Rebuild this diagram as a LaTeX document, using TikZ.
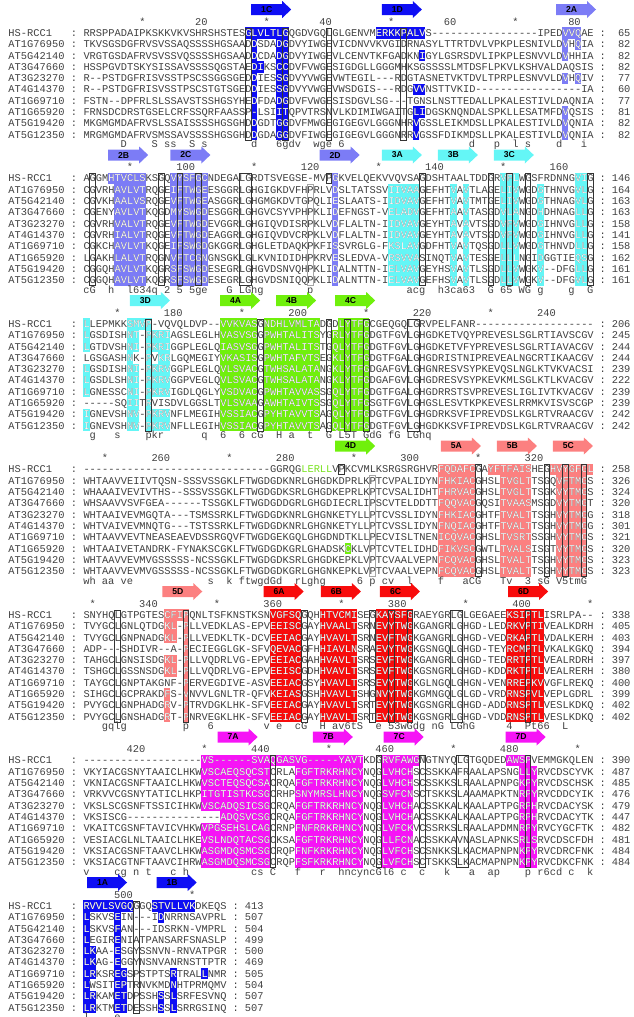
\documentclass[tikz,border=0pt]{standalone}
\usepackage{fontspec}
\setmonofont{Liberation Mono}
\newfontfamily\lblfont{Liberation Sans}

\definecolor{bA}{RGB}{14,14,244}
\definecolor{bB}{RGB}{124,124,246}
\definecolor{cC}{RGB}{100,246,246}
\definecolor{gG}{RGB}{112,240,12}
\definecolor{sS}{RGB}{252,128,128}
\definecolor{rR}{RGB}{248,12,12}
\definecolor{mM}{RGB}{246,20,246}
\definecolor{grT}{RGB}{120,226,30}
\definecolor{inkC}{RGB}{64,64,64}

\tikzstyle{seqtext}=[anchor=base west, inner sep=0pt, text=inkC, font=\ttfamily\fontsize{10.37}{12}\selectfont]
\tikzstyle{midtext}=[seqtext, anchor=base]
\tikzstyle{numtext}=[seqtext, anchor=base east]
\tikzstyle{strandlabel}=[inner sep=0pt, text=black, font=\lblfont\bfseries\fontsize{8.6}{9}\selectfont]
\tikzstyle{colbox}=[draw=black!80, line width=0.7pt]
\tikzstyle{greybox}=[draw=black!35, line width=0.7pt]

\def\xo{83.3}
\def\cw{6.22}
\def\rs{11.3}

\newcommand\setblock[1]{\pgfmathsetmacro\Y{33+(#1-1)*145.5}}
\newcommand\shadecells[1]{\foreach \hue/\ca/\cb/\ra/\rb in #1 {\fill[\hue] ({\xo+(\ca-1)*\cw},{\Y+(\ra-0.5)*\rs}) rectangle ({\xo+\cb*\cw},{\Y+(\rb+0.5)*\rs});}}
\newcommand\seqrows[3]{\foreach \nm/\s/\e [count=\r from 0] in #3 {
  \node[seqtext] (n#1-\r) at (8.3,{\Y+\r*\rs+3.4}) {\nm};
  \node[midtext] (c#1-\r) at ({\xo-1.5*\cw},{\Y+\r*\rs+3.4}) {:};
  \node[seqtext] (s#1-\r) at (\xo,{\Y+\r*\rs+3.4}) {\s};
  \node[midtext] (d#1-\r) at ({\xo+(#2+1.5)*\cw},{\Y+\r*\rs+3.4}) {:};
  \node[numtext] (e#1-\r) at ({\xo+(#2+6)*\cw},{\Y+\r*\rs+3.4}) {\e};}}
\newcommand\whiterows[3]{\begin{scope}
  \clip \foreach \hue/\ca/\cb/\ra/\rb in #2 {({\xo+(\ca-1)*\cw},{\Y+(\ra-0.5)*\rs}) rectangle ({\xo+\cb*\cw},{\Y+(\rb+0.5)*\rs})};
  \foreach \nm/\s/\e [count=\r from 0] in #3 {\node[seqtext, text=white] (w#1-\r) at (\xo,{\Y+\r*\rs+3.4}) {\s};}
  \end{scope}}
\newcommand\boxcols[2]{\foreach \ca/\cb/\ra/\rb in {#2} {\draw[#1] ({\xo+(\ca-1)*\cw+0.3},{\Y+(\ra-0.5)*\rs+0.5}) rectangle ({\xo+\cb*\cw-0.3},{\Y+(\rb+0.5)*\rs-0.5});}}
\newcommand\rulermarks[3]{\foreach \cc in {#2} {\node[midtext] (k#1-\cc) at ({\xo+(\cc-0.5)*\cw},{\Y-8}) {*};}
  \foreach \cc/\ch in {#3} {\node[numtext] (m#1-\cc) at ({\xo+\cc*\cw},{\Y-8}) {\ch};}}
\newcommand\consline[2]{\foreach \cc/\ch in {#2} {\node[midtext] (q#1-\cc) at ({\xo+(\cc-0.5)*\cw},{\Y+9*\rs+13.2}) {\ch};}}
\newcommand\strand[3]{\fill[#3] ({\xo+(#1-1)*\cw},{\Y-29}) -- ++(31,0) -- ++(0,-3) -- ++(9,8.5) -- ++(-9,8.5) -- ++(0,-3) -- ++(-31,0) -- cycle;
  \node[strandlabel] (st#2) at ({\xo+(#1-1)*\cw+15.5},{\Y-23.5}) {#2};}

\def\rowsA{HS-RCC1/RRSPPADAIPKSKKVKVSHRSHSTESGLVLTLGQGDVGQLGLGENVMERKKPALVS-----------------IPEDVVQAE/65,
AT1G76950/TKVSGSDGFRVSVSSAQSSSSHGSAADDSDADGDVYIWGEVICDNVVKVGIDRNASYLTTRTDVLVPKPLESNIVLDVHQIA/82,
AT5G42140/VRGTGSDAFRVSVSSVQSSSSHGSAADDCDADGDVYIWGEVLCENVTKFGADKNIGYLGSRSDVLIPKPLESNVVLDVHHIA/82,
AT3G47660/HSSPGVDTSKYSISSAVSSSSQGSTAEDIKSCCDVFVWGESIGDGLLGGGMHKSGSSSSLMTDSFLPKVLKSHVALDAQSIS/82,
AT3G23270/R--PSTDGFRISVSSTPSCSSGGSGEDDIESSGDVYVWGEVWTEGIL---RDGTASNETVKTDVLTPRPLESNVVLDVHQIV/77,
AT4G14370/R--PSTDGFRISVSSTPSCSTGTSGEDDIESSGDVYVWGEVWSDGIS---RDGVVNSTTVKID-----------------IA/60,
AT1G69710/FSTN--DPFRLSLSSAVSTSSHGSYHEDFDADGDVFVWGESISDGVLSG---TGNSLNSTTEDALLPKALESTIVLDAQNIA/77,
AT1G65920/FRNSDCDRSTGSELCRFSSQRFAASSP-LSIITQPVTRSNVLKDIMIWGAITGLIDGSKNQNDALSPKLLESATMFDVQSIS/81,
AT5G19420/MKGMGMDAFRVSLSSAISSSSHGSGHDDGDTGGDVFMWGEGIGEGVLGGGNHRVGSSLEIKMDSLLPKALESTIVLDVQNIA/82,
AT5G12350/MRGMGMDAFRVSMSSAVSSSSHGSGHDDGDAGGDVFIWGEGIGEGVLGGGNRRVGSSFDIKMDSLLPKALESTIVLDVQNIA/82}
\def\shadeA{bA/27/33/0/0, bA/28/28/1/9, bA/32/33/1/9, bA/29/29/3/3, bA/48/55/0/0, bA/55/55/2/2, bA/54/55/5/5, bA/54/55/7/7, bA/54/54/8/9, bB/78/80/0/0, bB/78/78/1/2, bB/80/80/1/1, bB/78/78/4/4, bB/80/80/4/4, bB/78/78/7/9}

\def\rowsB{HS-RCC1/AGGMHTVCLSKSGQVYSFGCNDEGALGRDTSVEGSE-MVPGKVELQEKVVQVSAGDSHTAALTDDGRVFLWGSFRDNNGVIG/146,
AT1G76950/CGVRHAVLVTRQGEIFTWGEESGGRLGHGIGKDVFHPRLVDSLTATSSVIIVAAGEFHTVAVTLAGELIVWGDGTHNVGVLG/164,
AT5G42140/CGVKHAALVSRQGEVFTWGEASGGRLGHGMGKDVTGPQLIESLAATS-IIDVAVGEFHTVAVTMTGELIVWGDGTHNAGVLG/163,
AT3G47660/CGENYAVLVTKQGDMYSWGDESGGRLGHGVCSYVPHPKLIDEFNGST-VELADVGEFHTAAVTASGDVLANGDHDHNAGLLG/163,
AT3G23270/CGVRHVALVTRQGEVFTWGDEVGGRLGHGIQVDISRPKLVDFLALTN-IIDVAVGEYHTAVAVTSGDVFVWGDGIHNVGLLG/158,
AT4G14370/CGVRHIALVTRQGEVFTWGDEAGGRLGHGIQVDVCRPKLVDFLALTN-IIDVAVGEYHTAVAVTSGDVFVWGDGIHNVGLLG/141,
AT1G69710/CGKCHAVLVTKQGEIFSWGDGKGGRLGHGLETDAQKPKFISSVRGLG-FKSLAVGDFHTVAVTQSGDLLVWGDGTHNVDLLG/158,
AT1G65920/LGAKHLALVTRQGNVFTCGNGNSGKLGLKVNIDIDHPKRVESLEDVA-VRSVVASINQTVAVTESGELLLNGIDGGTIEQSG/162,
AT5G19420/CGGQHAVLVTKQGRSFSWGDESEGRLGHGVDSNVQHPKLIDALNTTN-IELVAVGEYHSVAVTLSGDLLVWGKV--DFGLLG/161,
AT5G12350/CGGQHAVLVTKQGRSFSWGDESEGRLGHGVDSNIQQPKLIDALNTTN-IELVAVGEFHSVAVTLSGDLLVWGKV--DFGVLG/161}
\def\shadeB{bB/5/10/0/0, bB/6/10/1/9, bB/15/20/0/9, bB/41/41/0/9, cC/50/54/1/9, cC/60/60/1/9, cC/62/62/1/9, cC/68/70/0/9, cC/74/74/1/9, cC/80/81/0/9}

\def\rowsC{HS-RCC1/LLEPMKKSMVP-VQVQLDVP--VVKVASGNDHLVMLTADGDLYTFGCGEQGQLGRVPELFANR-------------------/206,
AT1G76950/LGSDISHNT-PKRIAGSLEGLHVASVSGGPWHTALITSYGRLYTFGDGTFGVLGHGDKETVQYPREVESLSGLRTIAVSCGV/245,
AT5G42140/LGTDVSHNI-PKRIGGPLEGLQIASVSGGPWHTALITSTGQLYTFGDGTFGVLGHGDKETVFYPREVESLSGLRTIAVACGV/244,
AT3G47660/LGSGASHNK-PVKRLGQMEGIYVKASISGPWHTAFVTSEGKLYTFGDGTFGALGHGDRISTNIPREVEALNGCRTIKAACGV/244,
AT3G23270/LGSDISHNI-PKRVGGPLEGLQVLSVACGTWHSALATANGKLYTFGDGAFGVLGHGNRESVSYPKEVQSLNGLKTVKVACSI/239,
AT4G14370/LGSDLSHNI-PKRVGGPVEGLQVLSVACGTWHSALATANGKLYTFGDGAFGVLGHGDRESVSYPKEVKMLSGLKTLKVACGV/222,
AT1G69710/LGNESSCNI-PKRVIGDLQGLYVSDVACGPWHTAVVASSGQLYTFGDGTFGALGHGDRRSTSVPREVESLIGLIVTKVACGV/239,
AT1G65920/-----SQIITRVISDVLGGSLTVLSVAAGAWHTAIVTSSGQLYTFGSGTFGVLGHGSLESVTKPKEVESLRRMKVISVSCGP/239,
AT5G19420/IGNEVSHNV-PKRVNFLMEGIHVSSIACGPYHTAVVTSAGQLYTFGDGTFGVLGHGDRKSVFIPREVDSLKGLRTVRAACGV/242,
AT5G12350/IGNEVSHNV-PKRVNFLLEGIHVSSIACGPYHTAVVTSAGQLYTFGDGTFGVLGHGDKKSVFIPREVDSLKGLRTVRAACGV/242}
\def\shadeC{cC/1/1/0/2, cC/1/1/4/6, cC/1/1/8/9, cC/8/10/0/0, cC/8/9/1/2, cC/8/8/3/3, cC/8/9/4/9, cC/11/11/0/9, cC/12/14/1/2, cC/13/14/3/3, cC/12/14/4/6, cC/12/14/8/9, gG/23/28/0/9, gG/30/38/0/9, gG/42/46/0/0, gG/41/46/1/9}

\def\rowsD{HS-RCC1/------------------------------GGRQG\textcolor{grT}{LERLL}VPKCVMLKSRGSRGHVRFQDAFCGAYFTFAISHEGHVYGFGL/258,
AT1G76950/WHTAAVVEIIVTQSN-SSSVSSGKLFTWGDGDKNRLGHGDKDPRLKPTCVPALIDYNFHKIACGHSLTVGLTTSGQVFTMGS/326,
AT5G42140/WHAAAIVEVIVTHS--SSSVSSGKLFTWGDGDKSRLGHGDKEPRLKPTCVSALIDHTFHRVACGHSLTVGLTTSGKVYTMGS/324,
AT3G47660/WHSAAVVSVFGEA------TSSGKLFTWGDGDDGRLGHGDIECRLIPSCVTELDDTTFQQVACGQSITVAASMSGDVYTMGT/320,
AT3G23270/WHTAAIVEVMGQTA---TSMSSRKLFTWGDGDKNRLGHGNKETYLLPTCVSSLIDYNFHKIACGHTFTVALTTSGHVYTMGG/318,
AT4G14370/WHTVAIVEVMNQTG---TSTSSRKLFTWGDGDKNRLGHGNKETYLLPTCVSSLIDYNFNQIACGHTFTVALTTSGHVYTMGG/301,
AT1G69710/WHTAAVVEVTNEASEAEVDSSRGQVFTWGDGEKGQLGHGDNDTKLLPECVISLTNENICQVACGHSLTVSRTSSGHVYTMGS/321,
AT1G65920/WHTAAIVETANDRK-FYNAKSCGKLFTWGDGDKGRLGHADSKCKLVPTCVTELIDHDFIKVSCGWTLTVALSISGTVYTMGS/320,
AT5G19420/WHTAAVVEVMVGSSSSS-NCSSGKLFTWGDGDKSRLGHGDKEPKLVPTCVAALVEPNFCQVACGHSLTVALTTSGHVYTMGS/323,
AT5G12350/WHTAAVVEVMVGSSSSS-NCSSGKLFTWGDGDKGRLGHGNKEPKLVPTCVAALVEPNFCQVACGHSLTVALTTSGHVYTMGS/323}
\def\shadeD{gG/43/43/7/7, sS/58/63/0/9, sS/66/72/0/0, sS/68/72/1/9, sS/76/82/0/0, sS/77/81/1/9}

\def\rowsE{HS-RCC1/SNYHQLGTPGTESCFIPQNLTSFKNSTKSNVGFSQGQHHTVCMISEGKAYSFGRAEYGRLGLGEGAEEKSIPTLISRLPA--/338,
AT1G76950/TVYGCLGNLQTDGKL-PLLVEDKLAS-EPVEEISCGAYHVAALTSRNEVYTWGKGANGRLGHGD-LEDRKVPTIVEALKDRH/405,
AT5G42140/TVYGCLGNPNADGKL-PLLVEDKLTK-DCVEEIACGAYHVAVLTSRNEVFTWGKGANGRLGHGD-VEDRKAPTLVDALKERH/403,
AT3G47660/ADP---SHDIVR--A-PECIEGGLGK-SFVQEVACGFHHIAVLNSRAEVYTWGKGSNGQLGHGD-TEYRCMPTLVKALKGKQ/394,
AT3G23270/TAHGCLGNSISDGKL-PLLVQDRLVG-EPVEEIACGAHHVAVLTSRSEVFTWGKGANGRLGHGD-TEDRRTPTLVEALRDRH/397,
AT4G14370/TSHGCLGSSNSDGKL-PLLVQDRLVG-EPVEEISCGDHHVAVLTSRSEVFTWGKGSNGRLGHGD-KDDRKTPTLVEALRERH/380,
AT1G69710/TAYGCLGNPTAKGNF-PERVEGDIVE-ASVEEIACGSYHVAVLTSRSEVYTWGKGLNGQLGHGN-VENRREPKVVGFLREKQ/400,
AT1G65920/SIHGCLGCPRAKDFS-VNVVLGNLTR-QFVKEIASGSHHVAVLTSHGNVYTWGKGMNGQLGLGD-VRDRNSPVLVEPLGDRL/399,
AT5G19420/PVYGCLGNPHADGRV-PTRVDGKLHK-SFVEEIACGAYHVAVLTSRTEVYTWGKGSNGRLGHGD-ADDRNSPTLVESLKDKQ/402,
AT5G12350/PVYGCLGNSHADGRT-PNRVEGKLHK-SFVEEIACGAYHVAVLTSRTEVYTWGKGSNGRLGHGD-VDDRNSPTLVESLKDKQ/402}
\def\shadeE{sS/14/17/0/0, sS/14/15/1/2, sS/14/15/4/5, sS/14/14/7/9, sS/17/17/0/9, rR/31/35/0/9, rR/39/44/0/9, rR/48/53/0/9, rR/69/74/0/9}

\def\rowsF{HS-RCC1/-------------------VS------SVAQGASVG-----YAVTKDGRVFAWGNGTNYQLGTGQDEDAWSPVEMMGKQLEN/390,
AT1G76950/VKYIACGSNYTAAICLHKWVSCAEQSQCSTCRLAFGFTRKRHNCYNQGLVHCHSCSSKKAFRAALAPSNGLLYRVCDSCYVK/487,
AT5G42140/VKNIACGSNFTAAICLHKWVSCTEQSQCSACRQAFGFTRKRHNCYNQGLVHCHSCSSKKSLRAALAPNPGKPYRVCDSCHSK/485,
AT3G47660/VRKVVCGSNYTATICLHKPITGTISTKCSGCRHPSNYMRSLHNCYNQGSVFCNSCTSKKSLAAAMAPKTNRPYRVCDDCYIK/476,
AT3G23270/VKSLSCGSNFTSSICIHKWVSCADQSICSGCRQAFGFTRKRHNCYNQGLVHCHACSSKKALKAALAPTPGRPHRVCDACYSK/479,
AT4G14370/VKSISCG---------------ADQSVCSGCRQAFGFTRKRHNCYNQGLVHCHACSSKKALKAALAPTPGRPHRVCDACYTK/447,
AT1G69710/VKAITCGSNFTAVICVHKWVPGSEHSLCAGCRNPFNFRRKRHNCYNQGLVFCKVCSSRKSLRAALAPDMNRPYRVCYGCFTK/482,
AT1G65920/VESIACGLNLTAAICLHKEVSLNDQTACSGCKSAFGFTRKRHNCYNQGLLFCNACSSKKAVNASLAPNKSRLSRVCDSCFDH/481,
AT5G19420/VKSIACGSNFTAAVCLHKWASGMDQSMCSGCRQPFNFKRKRHNCYNQGLVFCHSCSNKKSLKACMAPNPNKPYRVCDRCFNK/484,
AT5G12350/VKSIACGTNFTAAVCIHRWASGMDQSMCSGCRQPFSFKRKRHNCYNQGLVFCHSCTSKKSLKACMAPNPNKPYRVCDKCFNK/484}
\def\shadeF{mM/20/45/0/0, mM/35/45/1/9, mM/20/30/1/4, mM/23/30/5/5, mM/20/30/6/9, mM/49/54/0/0, mM/49/53/1/9, mM/69/72/0/0, mM/71/73/1/9}

\def\rowsG{HS-RCC1/RVVLSVGQGGQSTVLLVKDKEQS/413,
AT1G76950/LSKVSEIN---IDNRRNSAVPRL/507,
AT5G42140/LSKVSFAN---IDSRKN-VMPRL/504,
AT3G47660/LEGIRENIATPANSARFSNASLP/499,
AT3G23270/LKAA-ESGYSSNVN-RNVATPGR/500,
AT4G14370/LKAG-EGGYNSNVANRNSTTPTR/469,
AT1G69710/LRKSREGSPSTPTSRTRALLNMR/505,
AT1G65920/LWSITEPTRNVKMDNHTPRMQMV/504,
AT5G19420/LRKAMETDPSSHSSLSRFESVNQ/507,
AT5G12350/LRKTMETDESSHSSLSRRGSINQ/507}
\def\shadeG{bA/1/8/0/0, bA/12/18/0/0, bA/1/1/1/9, bA/2/2/4/6, bA/2/2/8/9, bA/6/6/1/9, bA/7/7/6/9, bA/13/13/1/1, bA/13/13/8/9, bA/15/15/6/9, bA/20/20/6/6}

\begin{document}
\begin{tikzpicture}[x=1pt, y=-1pt]
\useasboundingbox (0,0) rectangle (633,1017);

% residues 1-82
\setblock{1}
\shadecells\shadeA
\seqrows{1}{82}\rowsA
\whiterows{1}\shadeA\rowsA
\boxcols{colbox}{27/27/0/9, 33/33/0/9, 40/40/0/9, 52/52/0/9}
\rulermarks{1}{10,30,50,70}{20/20,40/40,60/60,80/80}
\consline{1}{7/D,12/S,14/s,15/s,18/S,20/s,28/d,32/6,33/g,34/d,35/v,38/w,39/g,40/e,42/6,63/d,67/p,70/l,72/s,77/d,81/i}
\strand{28}{1C}{bA}
\strand{49}{1D}{bA}
\strand{77}{2A}{bB}

% residues 83-164
\setblock{2}
\shadecells\shadeB
\seqrows{2}{82}\rowsB
\whiterows{2}\shadeB\rowsB
\boxcols{colbox}{2/2/0/9, 13/13/0/9, 16/16/0/9, 19/19/0/9, 26/27/0/9, 40/40/0/0, 55/55/0/9, 66/66/0/9, 69/69/0/9, 72/72/0/9, 82/82/0/9}
\boxcols{greybox}{37/37/1/9}
\rulermarks{2}{8,28,48,68}{18/100,38/120,58/140,78/160}
\consline{2}{1/c,2/G,5/h,8/l,9/6,10/3,11/4,12/q,14/2,16/5,18/5,19/g,20/e,24/G,26/L,27/G,28/h,29/g,37/p,53/a,54/c,55/g,58/h,59/3,60/c,61/a,62/6,63/3,66/G,68/6,69/5,71/W,72/G,74/g,79/g,82/G}
\strand{5}{2B}{bB}
\strand{15}{2C}{bB}
\strand{39}{2D}{bB}
\strand{49}{3A}{cC}
\strand{58}{3B}{cC}
\strand{67}{3C}{cC}

% residues 165-246
\setblock{3}
\shadecells\shadeC
\seqrows{3}{82}\rowsC
\whiterows{3}\shadeC\rowsC
\boxcols{colbox}{11/11/0/9, 29/29/0/9, 40/40/0/9, 43/43/0/9, 46/46/0/9, 53/54/0/9}
\rulermarks{3}{6,26,46,66}{16/180,36/200,56/220,76/240}
\consline{3}{2/g,6/s,11/p,12/k,13/r,20/q,23/6,26/6,28/c,29/G,32/H,34/a,37/t,40/G,42/L,43/5,44/T,46/G,47/d,48/G,50/f,51/G,53/L,54/G,55/h,56/q}
\strand{8.5}{3D}{cC}
\strand{23}{4A}{gG}
\strand{32}{4B}{gG}
\strand{41.5}{4C}{gG}

% residues 247-328
\setblock{4}
\shadecells\shadeD
\seqrows{4}{82}\rowsD
\whiterows{4}\shadeD\rowsD
\boxcols{colbox}{42/42/0/0, 64/64/0/9, 75/75/0/9, 78/78/0/9, 81/81/0/9}
\boxcols{greybox}{47/47/1/9}
\rulermarks{4}{4,24,44,64}{14/260,34/280,54/300,74/320}
\consline{4}{1/w,2/h,4/a,5/a,7/v,8/e,21/s,24/k,26/f,27/t,28/w,29/g,30/d,31/G,32/d,35/r,36/L,37/g,38/h,39/g,45/6,47/p,49/c,50/v,53/l,58/f,62/a,63/C,64/G,68/T,69/v,72/3,74/s,75/G,77/V,78/5,79/t,80/m,81/G}
\strand{41.5}{4D}{gG}
\strand{58.5}{5A}{sS}
\strand{67.5}{5B}{sS}
\strand{76.5}{5C}{sS}

% residues 329-410
\setblock{5}
\shadecells\shadeE
\seqrows{5}{82}\rowsE
\whiterows{5}\shadeE\rowsE
\boxcols{colbox}{6/6/0/9, 17/17/0/9, 36/36/0/9, 47/47/0/9, 50/50/0/9, 53/53/0/9, 60/61/0/9, 72/72/0/9}
\rulermarks{5}{2,22,42,62,82}{12/340,32/360,52/380,72/400}
\consline{5}{4/g,5/q,6/l,7/g,17/p,21/6,30/v,32/e,35/c,36/G,39/H,41/a,42/v,43/6,44/t,45/S,48/e,50/5,51/3,52/w,53/G,54/d,55/g,57/n,58/G,60/L,61/G,62/h,63/G,69/4,72/P,73/t,74/6,75/6,78/L}
\strand{13.7}{5D}{sS}
\strand{30}{6A}{rR}
\strand{39.2}{6B}{rR}
\strand{48.7}{6C}{rR}
\strand{69.3}{6D}{rR}

% residues 411-492
\setblock{6}
\shadecells\shadeF
\seqrows{6}{82}\rowsF
\whiterows{6}\shadeF\rowsF
\boxcols{colbox}{31/31/0/9, 48/48/0/9, 55/55/0/9, 61/62/0/9, 72/72/0/9}
\rulermarks{6}{20,40,60,80}{10/420,30/440,50/460,70/480}
\consline{6}{1/v,6/c,7/g,9/n,11/t,15/c,17/h,28/c,29/s,31/C,35/f,39/r,42/h,43/n,44/c,45/y,46/n,47/c,48/G,49/l,50/6,52/c,55/c,59/k,63/a,66/a,67/p,72/p,74/r,75/6,76/c,77/d,79/c,82/k}
\strand{22.6}{7A}{mM}
\strand{37.9}{7B}{mM}
\strand{49.3}{7C}{mM}
\strand{68.9}{7D}{mM}

% residues 493-515
\setblock{7}
\shadecells\shadeG
\seqrows{7}{23}\rowsG
\whiterows{7}\shadeG\rowsG
\boxcols{colbox}{9/9/0/9}
\rulermarks{7}{18}{8/500}
\consline{7}{1/l,6/e}
\strand{1.6}{1A}{bA}
\strand{12.8}{1B}{bA}
\end{tikzpicture}
\end{document}
